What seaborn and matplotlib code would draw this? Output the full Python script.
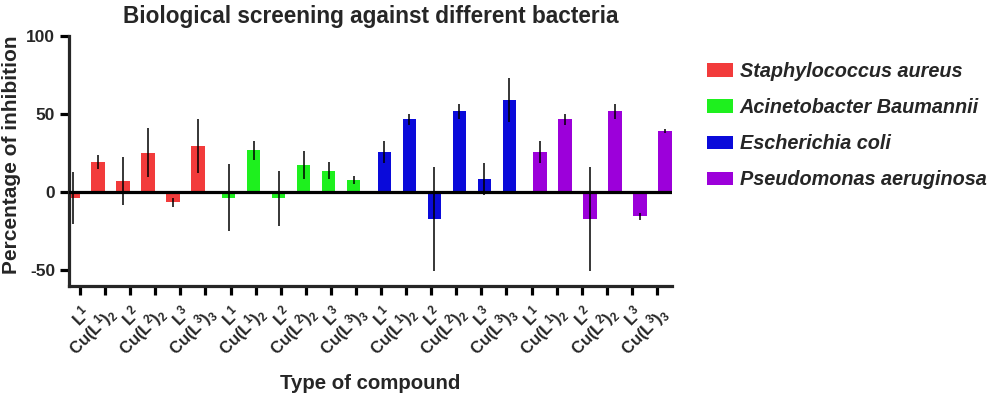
import numpy as np
import pandas as pd
import matplotlib
matplotlib.use("Agg")
import matplotlib.pyplot as plt
import seaborn as sns

# ---------------- data ----------------
groups = ["Staphylococcus aureus", "Acinetobacter Baumannii",
          "Escherichia coli", "Pseudomonas aeruginosa"]
compound_labels = [r"$\mathbf{L}^{1}$", r"$\mathbf{Cu(L}^{1}\mathbf{)}_{2}$",
                   r"$\mathbf{L}^{2}$", r"$\mathbf{Cu(L}^{2}\mathbf{)}_{2}$",
                   r"$\mathbf{L}^{3}$", r"$\mathbf{Cu(L}^{3}\mathbf{)}_{3}$"]

sa_vals = [-3.5, 19.3, 7.3, 25.3, -6.3, 29.6]
sa_err = [16.5, 4.5, 15.2, 15.7, 2.9, 17.5]
ab_vals = [-3.5, 26.8, -3.9, 17.6, 13.7, 7.7]
ab_err = [21.5, 5.9, 17.8, 8.8, 5.5, 2.5]
ec_vals = [25.5, 46.7, -17.3, 52.0, 8.6, 58.9]
ec_err = [7.0, 3.4, 33.4, 4.8, 10.3, 14.2]
pa_vals = [25.5, 46.7, -17.3, 52.0, -15.4, 39.2]
pa_err = [7.0, 3.4, 33.4, 4.8, 2.2, 1.5]

colors = ["#F23B3B", "#1EF01E", "#0A0ADA", "#9C00DA"]

# ---------------- table ----------------
gap = 0.23
rows = []
for g, (name, vals, errs) in enumerate(zip(groups,
                                           [sa_vals, ab_vals, ec_vals, pa_vals],
                                           [sa_err, ab_err, ec_err, pa_err])):
    for j, (v, e) in enumerate(zip(vals, errs)):
        rows.append({"pos": g * (6 + gap) + j, "value": v, "err": e,
                     "group": name, "compound": compound_labels[j]})
df = pd.DataFrame(rows)

# ---------------- style ----------------
sns.set_style("ticks")
plt.rcParams["font.family"] = ["Liberation Sans", "DejaVu Sans"]
plt.rcParams["font.weight"] = "bold"
plt.rcParams["mathtext.fontset"] = "custom"
plt.rcParams["mathtext.rm"] = "Liberation Sans"
plt.rcParams["mathtext.bf"] = "Liberation Sans:bold"
plt.rcParams["mathtext.it"] = "Liberation Sans:italic"

fig = plt.figure(figsize=(9.92, 3.94), dpi=100)
ax = fig.add_axes([69 / 992, 1 - 286 / 394, (672 - 69) / 992, (286 - 36) / 394])

sns.barplot(data=df, x="pos", y="value", hue="group", palette=colors,
            native_scale=True, dodge=False, width=0.54, errorbar=None,
            saturation=1, edgecolor="none", linewidth=0, ax=ax, zorder=2)

ax.errorbar(df["pos"], df["value"], yerr=df["err"], fmt="none",
            ecolor="black", elinewidth=1.1, capsize=0, zorder=3)

ax.axhline(0, color="black", lw=2.3, zorder=4)

ax.set_xlim(-0.15, 23.97)
ax.set_ylim(-60, 100)
ax.set_yticks([-50, 0, 50, 100])
ax.set_yticklabels(["-50", "0", "50", "100"], fontsize=12.5, fontweight="bold")

tick_pos = np.linspace(0.29, 23.37, 24)
ax.set_xticks(tick_pos)
ax.set_xticklabels(compound_labels * 4, rotation=45, ha="right",
                   rotation_mode="anchor", fontsize=12)

for side in ["top", "right"]:
    ax.spines[side].set_visible(False)
for side in ["left", "bottom"]:
    ax.spines[side].set_linewidth(2.3)
ax.tick_params(axis="both", width=2.3, length=6.5, color="black")
ax.tick_params(axis="x", pad=5)

ax.set_xlabel("Type of compound", fontsize=14.7, fontweight="bold", labelpad=10)
ax.set_ylabel("Percentage of inhibition", fontsize=15, fontweight="bold")
ax.yaxis.set_label_coords(-0.08, 0.524)
ax.set_title("Biological screening against different bacteria",
             fontsize=16.3, fontweight="bold", pad=9.3)

handles, labels = ax.get_legend_handles_labels()
ax.get_legend().remove()
fig.legend(handles, labels, loc="upper left", bbox_to_anchor=(707 / 992, 1 - 62 / 394),
           frameon=False, prop={"weight": "bold", "style": "italic", "size": 14.3},
           handlelength=1.3, handleheight=0.65, handletextpad=0.35,
           labelspacing=0.86, borderpad=0, borderaxespad=0)

fig.savefig("out.png", dpi=100)
